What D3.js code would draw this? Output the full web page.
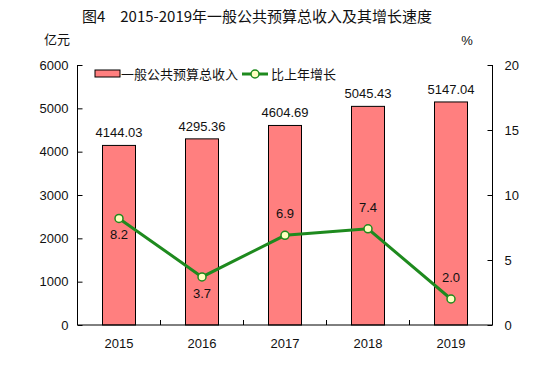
<!DOCTYPE html>
<html><head><meta charset="utf-8">
<script src="https://cdn.jsdelivr.net/npm/d3@7/dist/d3.min.js"></script>
<style>body{margin:0;background:#fff}svg{display:block}</style>
</head><body>
<script>
const years = ["2015","2016","2017","2018","2019"];
const revenue = [4144.03, 4295.36, 4604.69, 5045.43, 5147.04];
const growth = [8.2, 3.7, 6.9, 7.4, 2.0];
const growthLabelPos = ["below","below","above","above","above"];
const leftTicks = [0,1000,2000,3000,4000,5000,6000];
const rightTicks = [0,5,10,15,20];
const title = "图4　2015-2019年一般公共预算总收入及其增长速度";
const seriesNames = ["一般公共预算总收入","比上年增长"];

const W=552,H=369;
const num = "'Liberation Sans', Arial, sans-serif";
const cjk = "'Noto Sans CJK SC', sans-serif";
const svg = d3.select("body").append("svg").attr("width",W).attr("height",H);
svg.append("rect").attr("width",W).attr("height",H).attr("fill","#fff");

const x0=77.5,x1=492.5,yTop=65,yBot=325;
const x = d3.scaleBand().domain(years).range([x0,x1]);
const yL = d3.scaleLinear().domain([0,6000]).range([yBot,yTop]);
const yR = d3.scaleLinear().domain([0,20]).range([yBot,yTop]);

svg.append("text").attr("x",257).attr("y",22).attr("text-anchor","middle")
  .attr("font-family",cjk).attr("font-size",15).attr("font-weight",400).attr("fill","#111").text(title);
svg.append("text").attr("x",57).attr("y",44).attr("text-anchor","middle")
  .attr("font-family",cjk).attr("font-size",13).attr("fill","#111").text("亿元");
svg.append("text").attr("x",467).attr("y",45).attr("text-anchor","middle")
  .attr("font-family",num).attr("font-size",13).attr("fill","#111").text("%");

// bars
const bw=33;
svg.selectAll("rect.bar").data(revenue).enter().append("rect").attr("class","bar")
  .attr("x",(d,i)=>x(years[i])+x.bandwidth()/2-bw/2)
  .attr("y",d=>yL(d)).attr("width",bw).attr("height",d=>yBot-yL(d))
  .attr("fill","#FF7F7F").attr("stroke","#000").attr("stroke-width",1);
svg.selectAll("text.bl").data(revenue).enter().append("text").attr("class","bl")
  .attr("x",(d,i)=>x(years[i])+x.bandwidth()/2).attr("y",d=>yL(d)-8)
  .attr("text-anchor","middle").attr("font-family",num).attr("font-size",13).attr("fill","#111")
  .text(d=>d.toFixed(2));

// axes
const axL = d3.axisLeft(yL).tickValues(leftTicks).tickFormat(d3.format("d")).tickSize(-5).tickPadding(9);
const gL = svg.append("g").attr("transform",`translate(${x0},0)`).call(axL);
const axR = d3.axisRight(yR).tickValues(rightTicks).tickFormat(d3.format("d")).tickSize(-5).tickPadding(12);
const gR = svg.append("g").attr("transform",`translate(${x1},0)`).call(axR);
const axB = d3.axisBottom(x).tickSize(0).tickPadding(10);
const gB = svg.append("g").attr("transform",`translate(0,${yBot})`).call(axB);
[gL,gR,gB].forEach(g=>{
  g.select(".domain").attr("stroke","#000");
  g.selectAll(".tick line").attr("stroke","#000");
  g.selectAll("text").attr("font-family",num).attr("font-size",13).attr("fill","#111");
});
gL.select(".domain").attr("d",`M0,${yTop}V${yBot}`);
gR.select(".domain").attr("d",`M0,${yTop}V${yBot}`);
gB.select(".domain").attr("d",`M${x0},0H${x1}`);
gB.selectAll("text").attr("dy","1em");
// category separator ticks
svg.selectAll("line.sep").data(years.slice(1)).enter().append("line").attr("class","sep")
  .attr("x1",d=>x(d)).attr("x2",d=>x(d)).attr("y1",yBot).attr("y2",yBot-5).attr("stroke","#000");

// line
const line = d3.line().x((d,i)=>x(years[i])+x.bandwidth()/2).y(d=>yR(d));
svg.append("path").datum(growth).attr("d",line).attr("fill","none")
  .attr("stroke","#1E8A1E").attr("stroke-width",3);
svg.selectAll("circle.pt").data(growth).enter().append("circle").attr("class","pt")
  .attr("cx",(d,i)=>x(years[i])+x.bandwidth()/2).attr("cy",d=>yR(d)).attr("r",4)
  .attr("fill","#FFFFC0").attr("stroke","#1E8A1E").attr("stroke-width",1.5);
svg.selectAll("text.gl").data(growth).enter().append("text").attr("class","gl")
  .attr("x",(d,i)=>x(years[i])+x.bandwidth()/2)
  .attr("y",(d,i)=>growthLabelPos[i]==="below"?yR(d)+21:yR(d)-17)
  .attr("text-anchor","middle").attr("font-family",num).attr("font-size",13).attr("fill","#111")
  .text(d=>d.toFixed(1));

// legend
const lg = svg.append("g");
lg.append("rect").attr("x",95).attr("y",70).attr("width",25).attr("height",7)
  .attr("fill","#FF7F7F").attr("stroke","#000");
lg.append("text").attr("x",121).attr("y",79).attr("font-family",cjk).attr("font-size",13).attr("fill","#111").text(seriesNames[0]);
lg.append("line").attr("x1",242).attr("x2",268).attr("y1",74).attr("y2",74).attr("stroke","#1E8A1E").attr("stroke-width",3);
lg.append("circle").attr("cx",255).attr("cy",74).attr("r",4).attr("fill","#FFFFC0").attr("stroke","#1E8A1E").attr("stroke-width",1.5);
lg.append("text").attr("x",271).attr("y",79).attr("font-family",cjk).attr("font-size",13).attr("fill","#111").text(seriesNames[1]);
</script>
</body></html>
